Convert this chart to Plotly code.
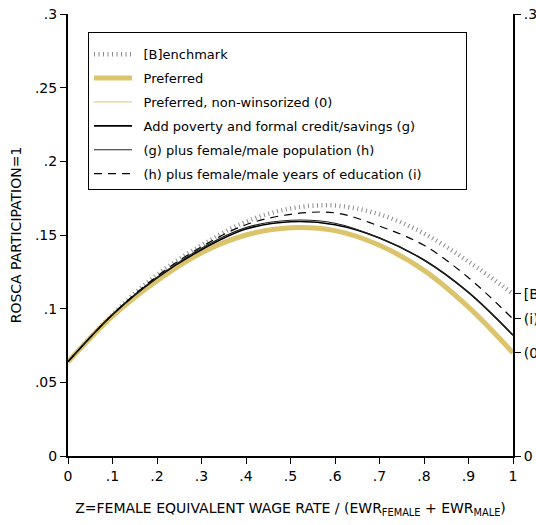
import plotly.graph_objects as go

z = [0, 0.1, 0.2, 0.3, 0.4, 0.5, 0.6, 0.7, 0.8, 0.9, 1.0]
benchmark = [0.064, 0.096, 0.123, 0.143, 0.159, 0.168, 0.170, 0.164, 0.151, 0.132, 0.110]
preferred = [0.064, 0.095, 0.119, 0.138, 0.150, 0.155, 0.153, 0.143, 0.126, 0.101, 0.070]
nonwins = [0.064, 0.095, 0.119, 0.138, 0.150, 0.155, 0.153, 0.143, 0.126, 0.101, 0.070]
spec_g = [0.064, 0.096, 0.121, 0.140, 0.154, 0.159, 0.157, 0.148, 0.133, 0.111, 0.082]
spec_h = [0.064, 0.096, 0.121, 0.141, 0.155, 0.160, 0.158, 0.148, 0.133, 0.111, 0.082]
spec_i = [0.064, 0.096, 0.122, 0.142, 0.157, 0.164, 0.165, 0.156, 0.143, 0.121, 0.093]

x_ticks = [0, 0.1, 0.2, 0.3, 0.4, 0.5, 0.6, 0.7, 0.8, 0.9, 1.0]
x_labels = ["0", ".1", ".2", ".3", ".4", ".5", ".6", ".7", ".8", ".9", "1"]
y_ticks = [0, 0.05, 0.1, 0.15, 0.2, 0.25, 0.3]
y_labels = ["0", ".05", ".1", ".15", ".2", ".25", ".3"]
r_ticks = [0, 0.070, 0.093, 0.110, 0.3]
r_labels = ["0", "(0)", "(i)", "[B]", ".3"]

GOLD = "#dcc46c"
FONT = "DejaVu Sans"
PRE = "\u2002"
POST = "\u2002" * 6

fig = go.Figure()
fig.add_trace(go.Scatter(x=z, y=benchmark, name=PRE + "[B]enchmark", mode="lines", legendgroup="a",
                         line=dict(color="#8c8c8c", width=4.5, dash="1px,3.5px", shape="spline")))
fig.add_trace(go.Scatter(x=z, y=preferred, name=PRE + "Preferred", mode="lines", legendgroup="b",
                         line=dict(color=GOLD, width=5, shape="spline")))
fig.add_trace(go.Scatter(x=z, y=nonwins, name=PRE + "Preferred, non-winsorized (0)", mode="lines", legendgroup="c",
                         line=dict(color=GOLD, width=1, shape="spline")))
fig.add_trace(go.Scatter(x=z, y=spec_g, name=PRE + "Add poverty and formal credit/savings (g)", mode="lines",
                         legendgroup="d", line=dict(color="black", width=1.6, shape="spline")))
fig.add_trace(go.Scatter(x=z, y=spec_h, name=PRE + "(g) plus female/male population (h)", mode="lines",
                         legendgroup="e", line=dict(color="#222222", width=1.1, shape="spline")))
fig.add_trace(go.Scatter(x=z, y=spec_i, name=PRE + "(h) plus female/male years of education (i)" + POST,
                         mode="lines", legendgroup="f",
                         line=dict(color="black", width=1.2, dash="8px,6px", shape="spline")))
# invisible trace to activate right axis
fig.add_trace(go.Scatter(x=[0], y=[0], yaxis="y2", mode="lines", showlegend=False,
                         hoverinfo="skip", line=dict(width=0)))

fig.update_layout(
    width=536, height=525,
    margin=dict(l=68, r=23, t=14, b=69),
    plot_bgcolor="white", paper_bgcolor="white",
    font=dict(family=FONT, size=13, color="black"),
    showlegend=True,
    legend=dict(x=0.045, y=0.96, xanchor="left", yanchor="top",
                bgcolor="white", bordercolor="black", borderwidth=1,
                font=dict(family=FONT, size=13, color="black"),
                title=dict(text=" ", font=dict(size=5)),
                traceorder="grouped", tracegroupgap=4, itemwidth=38),
    xaxis=dict(range=[0, 1], tickvals=x_ticks, ticktext=x_labels, showgrid=False,
               zeroline=False, showline=True, linecolor="black", linewidth=2,
               ticks="outside", ticklen=6, tickwidth=1, tickcolor="black",
               tickfont=dict(size=14), automargin=False,
               title=dict(text="Z=FEMALE EQUIVALENT WAGE RATE / (EWR<sub>FEMALE</sub> + EWR<sub>MALE</sub>)",
                          font=dict(size=14), standoff=20)),
    yaxis=dict(range=[0, 0.3], tickvals=y_ticks, ticktext=y_labels, showgrid=False,
               zeroline=False, showline=True, linecolor="black", linewidth=2,
               ticks="outside", ticklen=6, tickwidth=1, tickcolor="black",
               tickfont=dict(size=14), automargin=False,
               title=dict(text="ROSCA PARTICIPATION=1", font=dict(size=14), standoff=10)),
    yaxis2=dict(range=[0, 0.3], overlaying="y", side="right", tickvals=r_ticks, ticktext=r_labels,
                showgrid=False, zeroline=False, showline=True, linecolor="black", linewidth=2,
                ticks="outside", ticklen=6, tickwidth=1, tickcolor="black",
                tickfont=dict(size=14), automargin=False),
)

fig.write_html("out.html")
